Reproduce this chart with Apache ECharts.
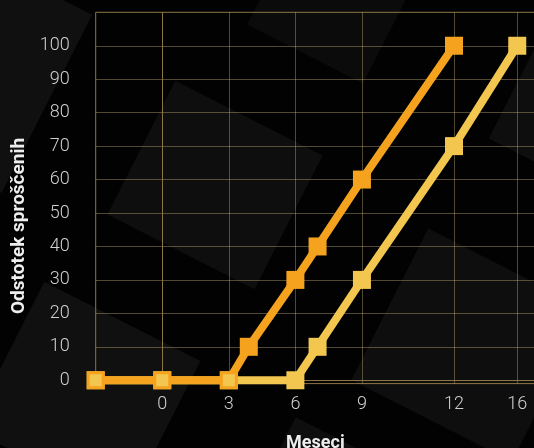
<!DOCTYPE html>
<html>
<head>
<meta charset="utf-8">
<script src="https://cdn.jsdelivr.net/npm/echarts@6/dist/echarts.min.js"></script>
<style>
html,body{margin:0;padding:0;background:#000;}
#c{width:534px;height:448px;}
</style>
</head>
<body>
<div id="c"></div>
<script>
// x axis: labelled month ticks and where they sit on the drawn axis
const xTickLabels = ['0', '3', '6', '9', '12', '16'];
const xTickValues = [0, 3, 6, 9, 13.15, 16];
const yTickValues = [0, 10, 20, 30, 40, 50, 60, 70, 80, 90, 100];

// series (x as read on the drawn axis, y = percent released)
const orangeX = [-3, 0, 3, 3.9, 6, 7, 9, 13.15];
const orangeY = [0, 0, 0, 10, 30, 40, 60, 100];
const yellowX = [-3, 0, 3, 6, 7, 9, 13.15, 16];
const yellowY = [0, 0, 0, 0, 10, 30, 70, 100];

const ORANGE = '#f5a21e';
const YELLOW = '#f3c74f';

const orangeData = orangeX.map((x, i) => {
  const d = { value: [x, orangeY[i]] };
  if (orangeY[i] === 0) {
    d.itemStyle = { color: YELLOW, borderColor: ORANGE, borderWidth: 3 };
    d.symbolSize = 15;
  }
  return d;
});
const yellowData = yellowX.map((x, i) => [x, yellowY[i]]);

function cube(cx, cy, w, h, rot, op) {
  return {
    type: 'rect', x: cx, y: cy, originX: 0, originY: 0, rotation: rot, silent: true, z: -10,
    shape: { x: -w / 2, y: -h / 2, width: w, height: h },
    style: { fill: 'rgba(255,255,255,' + op + ')' }
  };
}

const chart = echarts.init(document.getElementById('c'));
chart.setOption({
  backgroundColor: '#020202',
  animation: false,
  graphic: [
    cube(-20, 70, 150, 200, -0.47, 0.06),
    cube(215, 185, 165, 150, -0.47, 0.05),
    cube(85, 395, 175, 165, -0.47, 0.06),
    cube(470, 345, 180, 170, -0.47, 0.05),
    cube(330, 5, 130, 110, -0.47, 0.04),
    cube(565, 110, 110, 120, -0.47, 0.05),
    cube(320, 480, 100, 90, -0.47, 0.05)
  ],
  grid: {
    left: 95.7, top: 12.3, right: -1, bottom: 64.4,
    outerBoundsMode: 'none', containLabel: false,
    show: true, borderColor: '#8c7744', borderWidth: 1, backgroundColor: 'transparent'
  },
  xAxis: {
    type: 'value', min: -3, max: 16.8,
    name: 'Meseci', nameLocation: 'middle', nameGap: 51,
    nameTextStyle: { color: '#eeeeee', fontFamily: 'Roboto', fontWeight: 'bold', fontSize: 18 },
    axisLine: { show: true, lineStyle: { color: '#8c7744', width: 1 } },
    axisTick: { show: false, customValues: xTickValues },
    axisLabel: {
      customValues: xTickValues,
      formatter: v => xTickLabels[xTickValues.indexOf(v)],
      color: '#cfcfcf', fontFamily: 'Roboto', fontWeight: 300, fontSize: 18, margin: 12
    },
    splitLine: { show: true, lineStyle: { color: 'rgba(210,190,130,0.38)', width: 1 } }
  },
  yAxis: {
    type: 'value', min: -1, max: 110,
    name: 'Odstotek sproščenih', nameLocation: 'middle', nameGap: 67,
    nameTextStyle: { color: '#eeeeee', fontFamily: 'Roboto', fontWeight: 'bold', fontSize: 19, padding: [0, 56, 0, 0] },
    axisLine: { show: true, lineStyle: { color: '#8c7744', width: 1 } },
    axisTick: { show: false, customValues: yTickValues },
    axisLabel: {
      customValues: yTickValues,
      color: '#cfcfcf', fontFamily: 'Roboto', fontWeight: 300, fontSize: 18, margin: 26,
      padding: [0, 0, 16, 0]
    },
    splitLine: { show: true, lineStyle: { color: 'rgba(210,190,130,0.38)', width: 1 } }
  },
  series: [
    {
      type: 'line', name: 'B', data: yellowData, z: 2,
      symbol: 'rect', symbolSize: 18,
      lineStyle: { color: YELLOW, width: 8 },
      itemStyle: { color: YELLOW }
    },
    {
      type: 'line', name: 'A', data: orangeData, z: 3,
      symbol: 'rect', symbolSize: 18,
      lineStyle: { color: ORANGE, width: 8 },
      itemStyle: { color: ORANGE }
    }
  ]
});
</script>
</body>
</html>
